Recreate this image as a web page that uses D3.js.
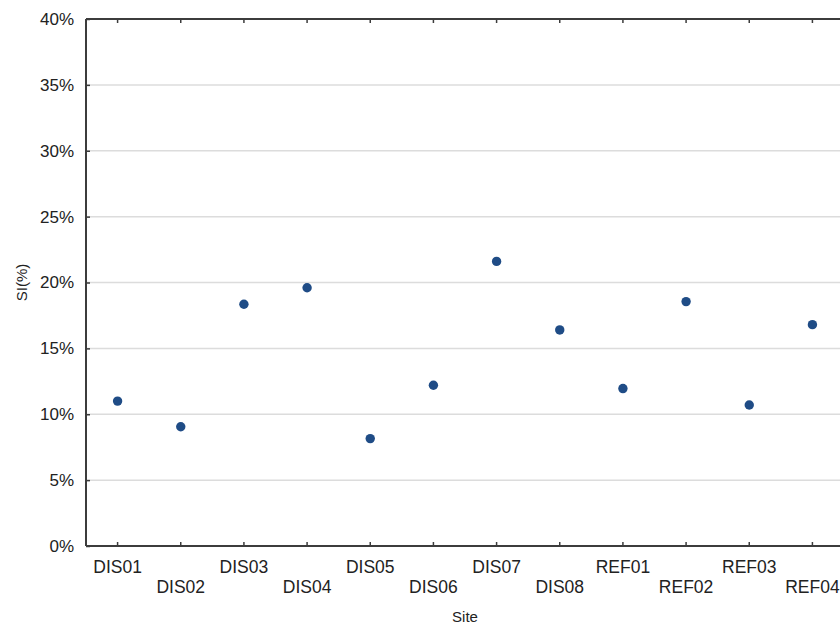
<!DOCTYPE html>
<html>
<head>
<meta charset="utf-8">
<script src="https://cdn.jsdelivr.net/npm/d3@7"></script>
<style>
  html, body { margin: 0; padding: 0; background: #fff; }
  svg { display: block; font-family: "Liberation Sans", Arial, sans-serif; }
</style>
</head>
<body>
<svg id="chart" width="840" height="628"></svg>
<script>
// Site list and SI values (%)
const sites = ["DIS01", "DIS02", "DIS03", "DIS04", "DIS05", "DIS06", "DIS07", "DIS08",
               "REF01", "REF02", "REF03", "REF04"];
const siValues = [11.0, 9.05, 18.35, 19.6, 8.15, 12.2, 21.6, 16.4, 11.95, 18.55, 10.7, 16.8];
const yTicks = [0, 5, 10, 15, 20, 25, 30, 35, 40];

const svg = d3.select("#chart");
const margin = { left: 86, top: 19, right: -4, bottom: 82 };
const W = 840, H = 628;
const x0 = margin.left, x1 = W - margin.right;
const y0 = H - margin.bottom, y1 = margin.top;

const x = d3.scaleBand().domain(sites).range([x0, x1]).padding(0);
const y = d3.scaleLinear().domain([0, 40]).range([y0, y1]);

const axisColor = "#3c3c3c";

// horizontal gridlines
svg.append("g")
  .selectAll("line")
  .data(yTicks.filter(t => t > 0 && t < 40))
  .join("line")
  .attr("x1", x0).attr("x2", x1)
  .attr("y1", d => y(d)).attr("y2", d => y(d))
  .attr("stroke", "#dcdcdc").attr("stroke-width", 1.5);

// left axis: labels outside, short ticks pointing inward
const yAxis = d3.axisLeft(y).tickValues(yTicks).tickFormat(d => d + "%")
  .tickSize(-4).tickPadding(12);
const gy = svg.append("g").attr("transform", `translate(${x0},0)`).call(yAxis);
gy.select(".domain").remove();
gy.selectAll(".tick line").attr("stroke", axisColor).attr("stroke-width", 1.5);
gy.selectAll(".tick text").attr("font-size", 17).attr("fill", "#222")
  .attr("font-family", "Liberation Sans, Arial, sans-serif");

// bottom axis: ticks point up into the plot, labels staggered on two rows
const xAxis = d3.axisBottom(x).tickSize(-4).tickPadding(0);
const gx = svg.append("g").attr("transform", `translate(0,${y0})`).call(xAxis);
gx.select(".domain").remove();
gx.selectAll(".tick line").attr("stroke", axisColor).attr("stroke-width", 1.5);
gx.selectAll(".tick text")
  .attr("font-size", 17.5).attr("fill", "#222")
  .attr("font-family", "Liberation Sans, Arial, sans-serif")
  .attr("dy", null)
  .attr("y", (d, i) => i % 2 === 0 ? 27 : 47);

// top axis: ticks point down
const xTop = d3.axisTop(x).tickSize(-4).tickFormat("");
const gt = svg.append("g").attr("transform", `translate(0,${y1})`).call(xTop);
gt.select(".domain").remove();
gt.selectAll(".tick line").attr("stroke", axisColor).attr("stroke-width", 1.5);

// frame lines (left, top, bottom)
svg.append("line").attr("x1", x0).attr("x2", x0).attr("y1", y1).attr("y2", y0)
  .attr("stroke", axisColor).attr("stroke-width", 2);
svg.append("line").attr("x1", x0).attr("x2", x1).attr("y1", y1).attr("y2", y1)
  .attr("stroke", axisColor).attr("stroke-width", 2);
svg.append("line").attr("x1", x0).attr("x2", x1).attr("y1", y0).attr("y2", y0)
  .attr("stroke", axisColor).attr("stroke-width", 2);

// data points
svg.append("g")
  .selectAll("circle")
  .data(sites.map((s, i) => ({ site: s, v: siValues[i] })))
  .join("circle")
  .attr("cx", d => x(d.site) + x.bandwidth() / 2)
  .attr("cy", d => y(d.v))
  .attr("r", 4.7)
  .attr("fill", "#1f4c86");

// axis titles
svg.append("text")
  .attr("x", (x0 + x1) / 2).attr("y", 622)
  .attr("text-anchor", "middle")
  .attr("font-size", 15).attr("fill", "#222")
  .text("Site");

svg.append("text")
  .attr("transform", `translate(27,${(y0 + y1) / 2}) rotate(-90)`)
  .attr("text-anchor", "middle")
  .attr("font-size", 15).attr("fill", "#222")
  .text("SI(%)");
</script>
</body>
</html>
